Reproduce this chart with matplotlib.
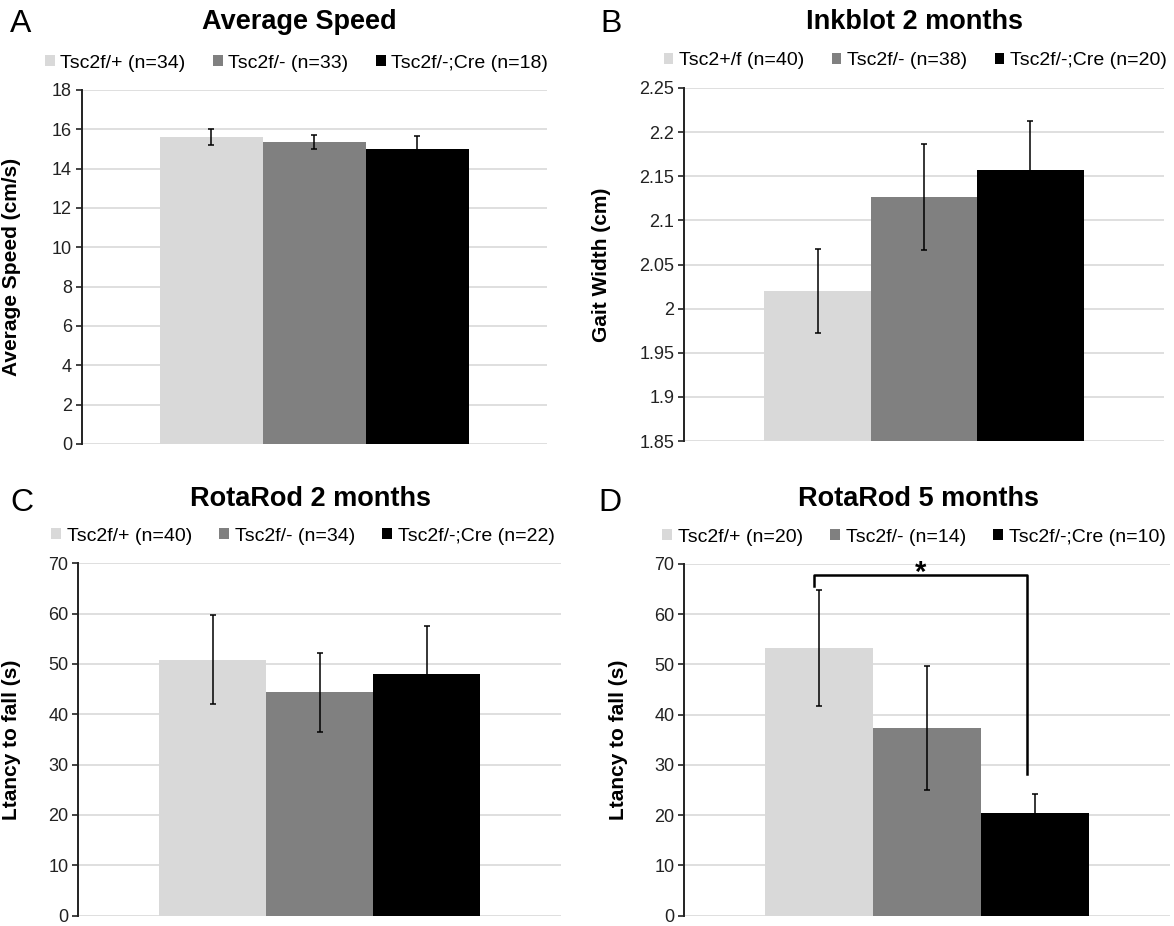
import matplotlib
matplotlib.use("Agg")
import matplotlib.pyplot as plt
from matplotlib.patches import Patch
import numpy as np

plt.rcParams['font.family'] = ['Liberation Sans', 'DejaVu Sans']

colors = ['#d9d9d9', '#808080', '#000000']

# Panel A
a_labels = ['Tsc2f/+ (n=34)', 'Tsc2f/- (n=33)', 'Tsc2f/-;Cre (n=18)']
a_means = [15.6, 15.35, 15.0]
a_errs = [0.4, 0.36, 0.65]
# Panel B
b_labels = ['Tsc2+/f (n=40)', 'Tsc2f/- (n=38)', 'Tsc2f/-;Cre (n=20)']
b_means = [2.02, 2.126, 2.157]
b_errs = [0.048, 0.06, 0.056]
# Panel C
c_labels = ['Tsc2f/+ (n=40)', 'Tsc2f/- (n=34)', 'Tsc2f/-;Cre (n=22)']
c_means = [50.8, 44.4, 48.0]
c_errs = [8.85, 7.85, 9.5]
# Panel D
d_labels = ['Tsc2f/+ (n=20)', 'Tsc2f/- (n=14)', 'Tsc2f/-;Cre (n=10)']
d_means = [53.35, 37.35, 20.4]
d_errs = [11.55, 12.4, 3.85]

W, H = 1174, 926
fig = plt.figure(figsize=(W / 100, H / 100), dpi=100)


def box(l, t, r, b):
    return [l / W, 1 - b / H, (r - l) / W, (b - t) / H]


panels = [
    dict(rect=box(81.7, 90, 546.7, 444), labels=a_labels, means=a_means, errs=a_errs,
         ylim=(0, 18), step=2, title='Average Speed', tx=299, ty=22,
         letter='A', lx=10, ly=24, ylabel='Average Speed (cm/s)', ylx=21, legx=0.462),
    dict(rect=box(684, 88, 1164, 441), labels=b_labels, means=b_means, errs=b_errs,
         ylim=(1.85, 2.25), step=0.05, title='Inkblot 2 months', tx=914, ty=22,
         letter='B', lx=600, ly=24, ylabel='Gait Width (cm)', ylx=611, legx=0.482),
    dict(rect=box(78.2, 563.3, 561, 915.5), labels=c_labels, means=c_means, errs=c_errs,
         ylim=(0, 70), step=10, title='RotaRod 2 months', tx=311, ty=499,
         letter='C', lx=10, ly=503, ylabel='Ltancy to fall (s)', ylx=21, legx=0.466),
    dict(rect=box(684, 564, 1170, 915.5), labels=d_labels, means=d_means, errs=d_errs,
         ylim=(0, 70), step=10, title='RotaRod 5 months', tx=918, ty=499,
         letter='D', lx=598, ly=503, ylabel='Ltancy to fall (s)', ylx=628, legx=0.473),
]

bw = 0.665 / 3
xs = [-bw, 0.0, bw]
axes = []
for p in panels:
    ax = fig.add_axes(p['rect'])
    axes.append(ax)
    lo, hi = p['ylim']
    ax.bar(xs, [m - lo for m in p['means']], bottom=lo, width=bw,
           color=colors, zorder=2)
    ax.errorbar(xs, p['means'], yerr=p['errs'], fmt='none', ecolor='black',
                elinewidth=1.1, capsize=2, capthick=1.1, zorder=3)
    ax.set_xlim(-0.5, 0.5)
    ax.set_ylim(lo, hi)
    ticks = np.round(np.arange(lo, hi + p['step'] / 2, p['step']), 4)
    ax.set_yticks(ticks)
    ax.set_yticklabels(['{:g}'.format(t) for t in ticks])
    ax.set_xticks([])
    ax.grid(axis='y', color='#d9d9d9', linewidth=1.2, zorder=0)
    for s in ['top', 'right', 'bottom']:
        ax.spines[s].set_visible(False)
    ax.spines['left'].set_linewidth(1.4)
    ax.spines['left'].set_color('#222222')
    ax.spines['left'].set_zorder(4)
    ax.tick_params(axis='y', direction='out', length=4, width=1.2, labelsize=13,
                   pad=3, colors='#222222')
    ax.set_ylabel(p['ylabel'], fontsize=15, fontweight='bold')
    x0 = p['rect'][0] * W
    wpx = p['rect'][2] * W
    ax.yaxis.set_label_coords((p['ylx'] - x0) / wpx, 0.5)
    handles = [Patch(facecolor=c, edgecolor='none') for c in colors]
    ax.legend(handles, p['labels'], loc='center', ncol=3, frameon=False,
              bbox_to_anchor=(p['legx'], 1 + 27 / (p['rect'][3] * H)),
              fontsize=14, handlelength=0.5, handleheight=0.5,
              handletextpad=0.3, columnspacing=1.4, borderaxespad=0)
    fig.text(p['tx'] / W, 1 - p['ty'] / H, p['title'], ha='center', va='center',
             fontsize=19.5, fontweight='bold')
    fig.text(p['lx'] / W, 1 - p['ly'] / H, p['letter'], ha='left', va='center',
             fontsize=23)

# Significance bracket in panel D
axd = axes[3]
br_y = 67.8
br_left, br_right = -0.232, 0.205
axd.plot([br_left, br_left, br_right, br_right], [65.7, br_y, br_y, 28.2],
         color='black', linewidth=1.8, zorder=5, clip_on=False)
axd.text((br_left + br_right) / 2, 66.6, '*', ha='center', va='baseline',
         fontsize=21, fontweight='bold')

fig.savefig('out.png', dpi=100)
